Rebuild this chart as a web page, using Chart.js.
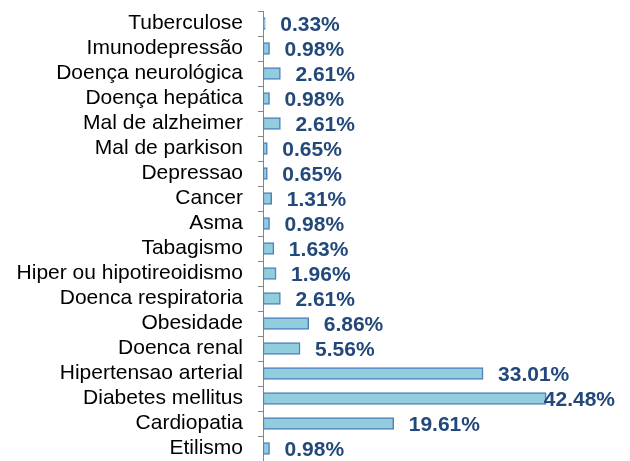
<!DOCTYPE html>
<html>
<head>
<meta charset="utf-8">
<script src="https://cdn.jsdelivr.net/npm/chart.js@4/dist/chart.umd.min.js"></script>
<style>
    html, body { margin: 0; padding: 0; background: #ffffff; overflow: hidden; }
    canvas { display: block; }
</style>
</head>
<body>
<canvas id="chart" width="630" height="461"></canvas>
<script>
// Categories, top to bottom as in the picture
const categories = [
    'Tuberculose', 'Imunodepressão', 'Doença neurológica', 'Doença hepática',
    'Mal de alzheimer', 'Mal de parkison', 'Depressao', 'Cancer', 'Asma',
    'Tabagismo', 'Hiper ou hipotireoidismo', 'Doenca respiratoria', 'Obesidade',
    'Doenca renal', 'Hipertensao arterial', 'Diabetes mellitus', 'Cardiopatia', 'Etilismo'
];

// Percent values
const percentages = [
    0.33, 0.98, 2.61, 0.98, 2.61, 0.65, 0.65, 1.31, 0.98,
    1.63, 1.96, 2.61, 6.86, 5.56, 33.01, 42.48, 19.61, 0.98
];

// Labels shown next to each bar
const valueLabels = percentages.map(v => v.toFixed(2) + '%');

// Simple label plugin (no datalabels plugin available offline)
const barLabels = {
    id: 'barLabels',
    afterDatasetsDraw(chart) {
        const ctx = chart.ctx;
        const meta = chart.getDatasetMeta(0);
        ctx.save();
        ctx.font = 'bold 21px "Liberation Sans", Arial, sans-serif';
        ctx.fillStyle = '#23497B';
        ctx.textBaseline = 'middle';
        ctx.textAlign = 'left';
        meta.data.forEach((bar, i) => {
            const text = valueLabels[i];
            const w = ctx.measureText(text).width;
            let x = bar.x + 15;
            // keep the label inside the picture, like the original does for the longest bar
            if (x + w > 615) x = 615 - w;
            ctx.fillText(text, x, bar.y + 2);
        });
        ctx.restore();
    }
};

new Chart(document.getElementById('chart').getContext('2d'), {
    type: 'bar',
    data: {
        labels: categories,
        datasets: [{
            data: percentages,
            backgroundColor: '#92CDDD',
            borderColor: '#4F81BD',
            borderWidth: 1.5,
            borderSkipped: false,
            barThickness: 12
        }]
    },
    options: {
        indexAxis: 'y',
        responsive: false,
        maintainAspectRatio: false,
        animation: false,
        plugins: {
            legend: { display: false },
            tooltip: { enabled: false }
        },
        layout: {
            padding: { top: 11, right: 67, bottom: 0, left: 0 }
        },
        scales: {
            x: {
                display: false,
                min: 0,
                max: 45
            },
            y: {
                afterFit: (scale) => {
                    scale.width = 263;
                    scale.paddingTop = 0;
                    scale.paddingBottom = 0;
                },
                border: { display: true, color: '#868686', width: 1 },
                grid: {
                    offset: true,
                    drawOnChartArea: false,
                    drawTicks: true,
                    tickLength: 5,
                    color: '#868686'
                },
                ticks: {
                    color: '#000000',
                    padding: 15,
                    autoSkip: false,
                    font: { family: '"Liberation Sans", Arial, sans-serif', size: 21 }
                }
            }
        }
    },
    plugins: [barLabels]
});
</script>
</body>
</html>
